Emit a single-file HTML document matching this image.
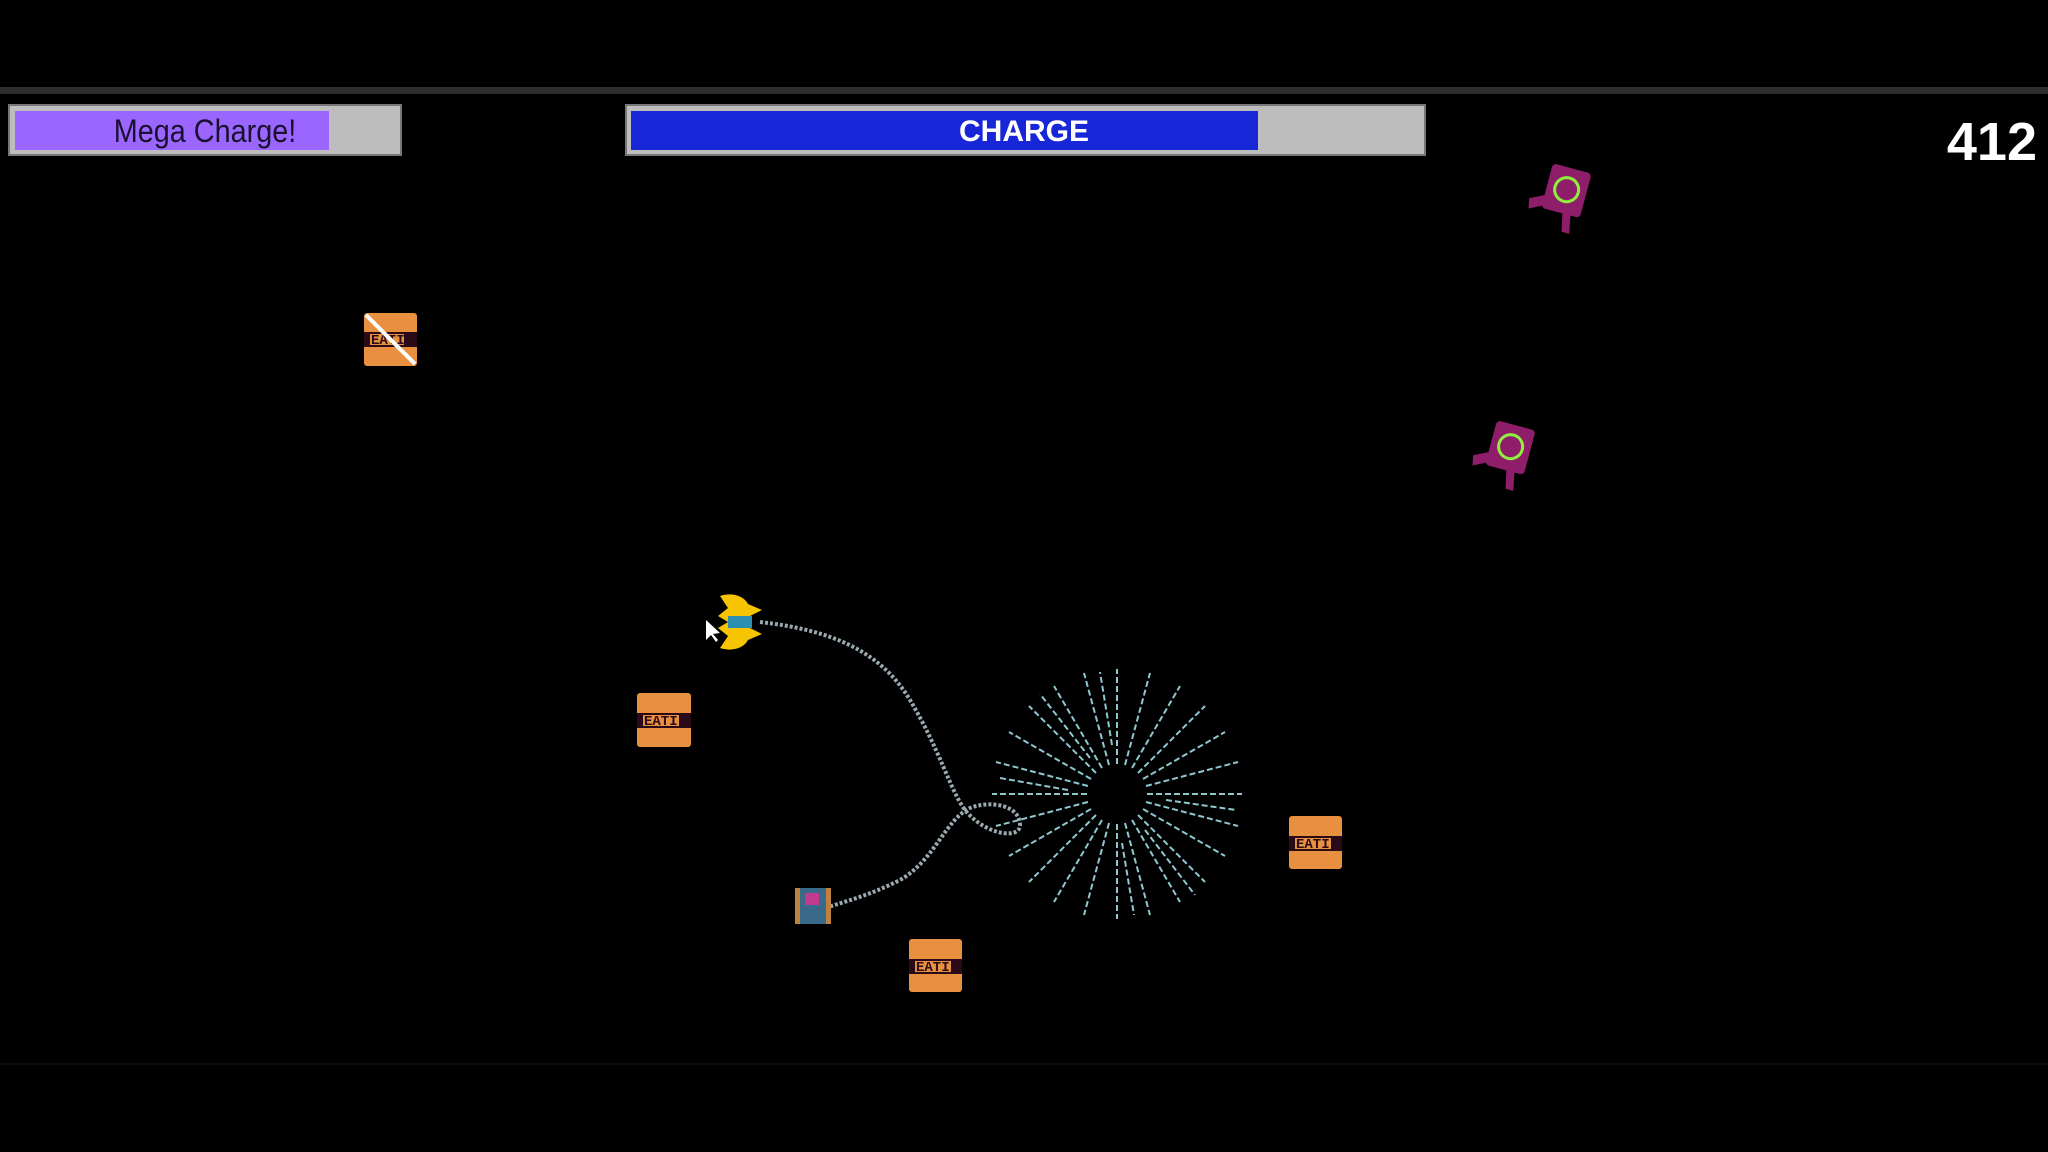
<!DOCTYPE html>
<html><head><meta charset="utf-8"><style>
html,body{margin:0;padding:0;background:#000;width:2048px;height:1152px;overflow:hidden}
</style></head><body>
<svg width="2048" height="1152" viewBox="0 0 2048 1152" xmlns="http://www.w3.org/2000/svg" style="display:block">
<rect width="2048" height="1152" fill="#000"/>
<rect x="0" y="87" width="2048" height="7" fill="#2e2e2e"/>
<line x1="0" y1="1064" x2="2048" y2="1064" stroke="#0c0c0c" stroke-width="2"/>
<rect x="9" y="105" width="392" height="50" fill="#bdbdbd" stroke="#777" stroke-width="2"/>
<rect x="15" y="111" width="314" height="39" fill="#9b66ff"/>
<text x="205" y="142" text-anchor="middle" font-family="Liberation Sans, sans-serif" font-size="32" fill="#1a1030" transform="translate(205,0) scale(0.9,1) translate(-205,0)">Mega Charge!</text>
<rect x="626" y="105" width="799" height="50" fill="#bdbdbd" stroke="#777" stroke-width="2"/>
<rect x="631" y="111" width="627" height="39" fill="#1726d6"/>
<text x="1024" y="141" text-anchor="middle" font-family="Liberation Sans, sans-serif" font-weight="bold" font-size="30" fill="#fff">CHARGE</text>
<text x="2037" y="160" text-anchor="end" font-family="Liberation Sans, sans-serif" font-weight="bold" font-size="54" fill="#fff">412</text>
<g font-family="Liberation Mono, monospace" font-size="14" font-weight="bold" fill="#2a0a18">
<g transform="translate(364,313)"><rect width="53" height="53" rx="3" fill="#e8903f"/><rect y="19" width="53" height="15" fill="#2a0a18"/><rect x="6" y="21" width="34" height="11" fill="#e8903f"/><text x="7" y="31">EATI</text><line x1="2" y1="2" x2="51" y2="51" stroke="#fff" stroke-width="4"/></g>
<g transform="translate(637,693)"><rect width="54" height="54" rx="3" fill="#e8903f"/><rect y="20" width="54" height="15" fill="#2a0a18"/><rect x="6" y="22" width="36" height="11" fill="#e8903f"/><text x="7" y="32">EATI</text></g>
<g transform="translate(909,939)"><rect width="53" height="53" rx="3" fill="#e8903f"/><rect y="20" width="53" height="15" fill="#2a0a18"/><rect x="6" y="22" width="36" height="11" fill="#e8903f"/><text x="7" y="32">EATI</text></g>
<g transform="translate(1289,816)"><rect width="53" height="53" rx="3" fill="#e8903f"/><rect y="20" width="53" height="15" fill="#2a0a18"/><rect x="6" y="22" width="36" height="11" fill="#e8903f"/><text x="7" y="32">EATI</text></g>
</g>
<g transform="translate(1567,196) rotate(15)">
<rect x="-22" y="-28" width="40" height="46" rx="4" fill="#8e1d6a"/>
<path d="M-22 5 L-36 12 L-34 22 L-18 14 Z M8 16 L12 36 L4 36 L0 18Z" fill="#8e1d6a"/>
<circle cx="-2" cy="-6" r="12" fill="none" stroke="#8df03c" stroke-width="3"/>
</g>
<g transform="translate(1511,453) rotate(15)">
<rect x="-22" y="-28" width="40" height="46" rx="4" fill="#8e1d6a"/>
<path d="M-22 5 L-36 12 L-34 22 L-18 14 Z M8 16 L12 36 L4 36 L0 18Z" fill="#8e1d6a"/>
<circle cx="-2" cy="-6" r="12" fill="none" stroke="#8df03c" stroke-width="3"/>
</g>
<path d="M760 622 C830 630 880 650 910 700 C940 750 950 790 965 810 C985 835 1020 840 1020 825 C1020 805 990 800 970 808 C945 820 935 860 900 880 C870 895 850 900 825 908" fill="none" stroke="#9aa8b0" stroke-width="4" stroke-dasharray="3 2"/>
<g transform="translate(740,622)">
<path d="M-20 -26 C-8 -30 4 -26 8 -18 L22 -12 L10 -6 L10 6 L22 12 L8 18 C4 26 -8 30 -20 26 L-12 14 L-22 6 L-12 0 L-22 -6 L-12 -14 Z" fill="#f6c400"/>
<rect x="-12" y="-6" width="24" height="12" fill="#2a8fb0"/>
</g>
<path d="M706 620 L706 640 L711 635 L716 642 L718 640 L713 634 L720 633 Z" fill="#fff"/>
<rect x="795" y="888" width="36" height="36" fill="#3a6a8a"/>
<rect x="805" y="893" width="14" height="12" fill="#c03a90"/>
<rect x="795" y="888" width="5" height="36" fill="#c08040"/><rect x="826" y="888" width="5" height="36" fill="#c08040"/>
<g stroke="#8fc8d0" stroke-width="2" stroke-dasharray="6 3">
<line x1="1147" y1="794" x2="1242" y2="794"/>
<line x1="1146" y1="802" x2="1238" y2="826"/>
<line x1="1143" y1="809" x2="1225" y2="856"/>
<line x1="1138" y1="815" x2="1205" y2="882"/>
<line x1="1132" y1="820" x2="1180" y2="902"/>
<line x1="1125" y1="823" x2="1150" y2="915"/>
<line x1="1117" y1="824" x2="1117" y2="919"/>
<line x1="1109" y1="823" x2="1084" y2="915"/>
<line x1="1102" y1="820" x2="1054" y2="902"/>
<line x1="1096" y1="815" x2="1029" y2="882"/>
<line x1="1091" y1="809" x2="1009" y2="856"/>
<line x1="1088" y1="802" x2="996" y2="826"/>
<line x1="1087" y1="794" x2="992" y2="794"/>
<line x1="1088" y1="786" x2="996" y2="762"/>
<line x1="1091" y1="779" x2="1009" y2="732"/>
<line x1="1096" y1="773" x2="1029" y2="706"/>
<line x1="1102" y1="768" x2="1054" y2="686"/>
<line x1="1109" y1="765" x2="1084" y2="673"/>
<line x1="1117" y1="764" x2="1117" y2="669"/>
<line x1="1125" y1="765" x2="1150" y2="673"/>
<line x1="1132" y1="768" x2="1180" y2="686"/>
<line x1="1138" y1="773" x2="1205" y2="706"/>
<line x1="1143" y1="779" x2="1225" y2="732"/>
<line x1="1146" y1="786" x2="1238" y2="762"/>
<line x1="1166" y1="800" x2="1236" y2="810"/>
<line x1="1122" y1="843" x2="1134" y2="915"/>
<line x1="1068" y1="790" x2="1000" y2="778"/>
<line x1="1112" y1="745" x2="1100" y2="672"/>
<line x1="1145" y1="830" x2="1195" y2="895"/>
<line x1="1090" y1="758" x2="1040" y2="694"/>
</g>
</svg>
</body></html>
